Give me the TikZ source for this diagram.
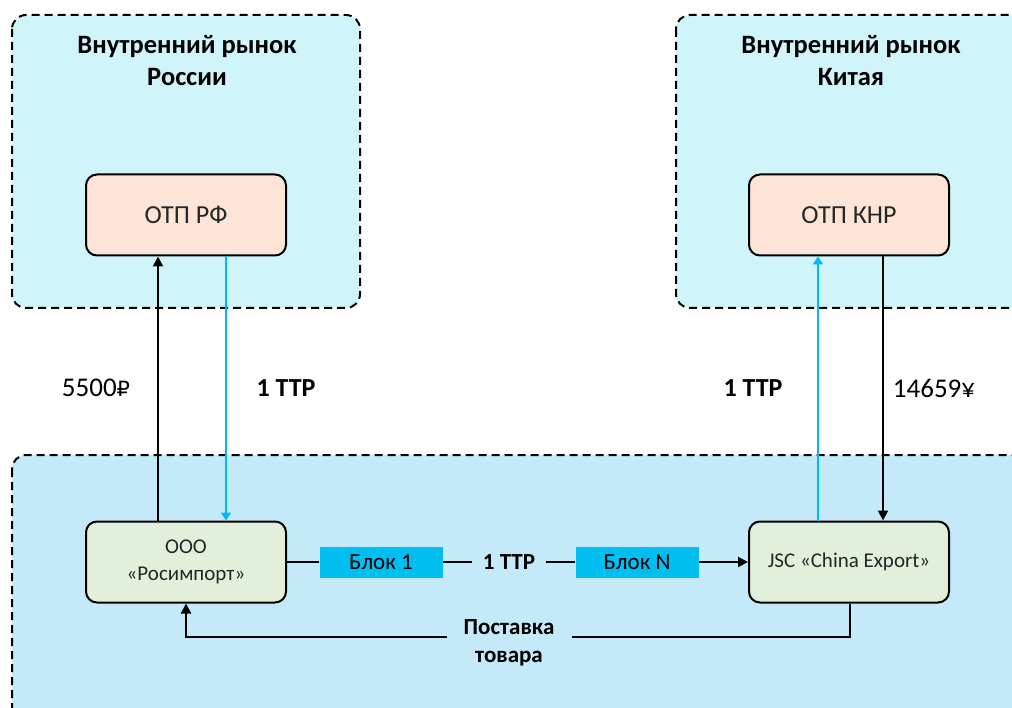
\documentclass[tikz,border=0pt]{standalone}
\usepackage{fontspec}
\setmainfont{Carlito}
\newfontfamily\dejavu{DejaVu Sans}
\usetikzlibrary{arrows.meta}
\definecolor{zonetop}{HTML}{CFF5FB}
\definecolor{zonebot}{HTML}{C4EAFA}
\definecolor{peach}{HTML}{FCE4D6}
\definecolor{mint}{HTML}{E2EFDA}
\definecolor{cyanline}{HTML}{00BAF2}
\definecolor{blockfill}{HTML}{00BFF0}
\definecolor{boxtext}{HTML}{262626}
\begin{document}
\begin{tikzpicture}[x=1pt,y=-1pt,
  zone/.style={draw=black, line width=2pt, dash pattern=on 8pt off 5pt, rounded corners=14pt},
  entity/.style={draw=black, line width=2pt, rounded corners=11pt, minimum width=200pt, minimum height=81pt, align=center, text=boxtext, font=\fontsize{21}{27}\selectfont},
  otp/.style={entity, fill=peach, font=\fontsize{26}{30}\selectfont},
  blockbox/.style={fill=blockfill, minimum width=123pt, minimum height=31pt, inner sep=0pt, font=\fontsize{23}{25}\selectfont},
  title/.style={align=center, font=\bfseries\fontsize{26.5}{32}\selectfont},
  lbl/.style={font=\fontsize{27}{30}\selectfont},
  blbl/.style={font=\bfseries\fontsize{26}{30}\selectfont},
  mlbl/.style={font=\bfseries\fontsize{23}{28}\selectfont},
  arr/.style={line width=2pt, -{Triangle[length=10pt,width=10pt]}},
  carr/.style={arr, line width=2.8pt, draw=cyanline, fill=cyanline, -{Triangle[length=8pt,width=10pt]}},
  ln/.style={line width=2pt}
]
\useasboundingbox (0,0) rectangle (1012,708);
\begin{scope}
\clip (0,0) rectangle (1012,708);
\draw[zone, fill=zonetop] (12,15) rectangle (360,308);
\draw[zone, fill=zonetop] (676,15) rectangle (1040,308);
\draw[zone, fill=zonebot] (12,455) rectangle (1040,740);
\end{scope}

\node[title] (tru) at (187,61) {Внутренний рынок\\России};
\node[title] (tcn) at (851,61) {Внутренний рынок\\Китая};

\node[otp] (otprf) at (186,215) {ОТП РФ};
\node[otp] (otpcn) at (849,215) {ОТП КНР};
\node[entity, fill=mint] (ooo) at (186,562) {ООО\\«Росимпорт»};
\node[entity, fill=mint] (jsc) at (849,562) {JSC «China Export»};

\node[blockbox] (b1) at (381,562) {Блок 1};
\node[blockbox] (bn) at (637,562) {Блок N};
\node[mlbl, inner xsep=11pt] (ttp) at (509,562) {1 TTP};

\node[lbl] (sum) at (96,388) {5500{\dejavu\fontsize{21}{26}\selectfont ₽}};
\node[blbl] (ttpl) at (286,388) {1 TTP};
\node[blbl] (ttpr) at (753,388) {1 TTP};
\node[lbl] (yuan) at (934,388) {14659¥};

\node[mlbl, align=center] (post) at (509,643) {Поставка\\товара};
\coordinate (pr) at (572,637);
\coordinate (pl) at (447,637);

\draw[arr] ([xshift=-28pt]ooo.north) -- ([xshift=-28pt]otprf.south);
\draw[carr] ([xshift=40pt]otprf.south) -- ([xshift=40pt]ooo.north);
\draw[carr] ([xshift=-31pt]jsc.north) -- ([xshift=-31pt]otpcn.south);
\draw[arr] ([xshift=34pt]otpcn.south) -- ([xshift=34pt]jsc.north);

\draw[ln] (ooo.east) -- (b1.west);
\draw[ln] (b1.east) -- (ttp.west);
\draw[ln] (ttp.east) -- (bn.west);
\draw[arr] (bn.east) -- (jsc.west);

\draw[ln] ([xshift=1pt]jsc.south) |- (pr);
\draw[arr] (pl) -| (ooo.south);
\end{tikzpicture}
\end{document}
